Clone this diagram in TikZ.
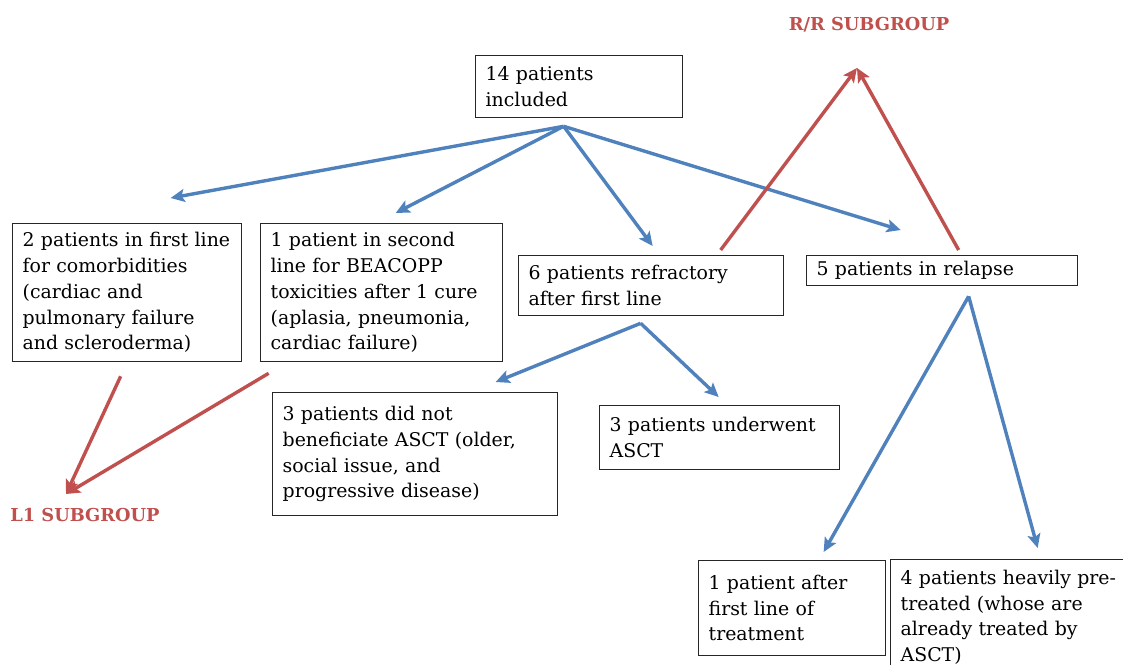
\documentclass[tikz,border=0pt]{standalone}
\usepackage{fontspec}
\setmainfont{DejaVu Serif}
\usetikzlibrary{arrows.meta,calc}
\definecolor{arrblue}{HTML}{4F81BD}
\definecolor{arrred}{HTML}{C0504D}
\begin{document}
\begin{tikzpicture}[x=1pt,y=-1pt,
  box/.style={draw=black!85,line width=1.3pt,anchor=north west,align=left,
    inner xsep=10pt,inner ysep=0pt,font=\fontsize{18.9}{25.7}\selectfont},
  bluearrow/.style={draw=arrblue,line width=3.4pt,-{Stealth[length=14pt,width=13pt,inset=3pt]}},
  redarrow/.style={draw=arrred,line width=3.4pt,-{Stealth[length=14pt,width=13pt,inset=3pt]}},
  lbl/.style={text=arrred,font=\fontsize{17.8}{20}\selectfont\bfseries,inner sep=0pt}]
\useasboundingbox (0,0) rectangle (1123,664);

\node[box,text width=187pt,minimum height=62pt] (top) at (475,55) {14 patients\\included};
\node[box,text width=209pt,minimum height=138pt] (A) at (12,223)
  {2 patients in first line\\for comorbidities\\(cardiac and\\pulmonary failure\\and scleroderma)};
\node[box,text width=222pt,minimum height=138pt] (B) at (260,223)
  {1 patient in second\\line for BEACOPP\\toxicities after 1 cure\\(aplasia, pneumonia,\\cardiac failure)};
\node[box,text width=245pt,minimum height=60pt] (C) at (518,255)
  {6 patients refractory\\after first line};
\node[box,text width=251pt,minimum height=30pt] (D) at (806,255)
  {5 patients in relapse};
\node[box,text width=265pt,minimum height=123pt] (E) at (272,392)
  {3 patients did not\\beneficiate ASCT (older,\\social issue, and\\progressive disease)};
\node[box,text width=220pt,minimum height=64pt] (F) at (599,405)
  {3 patients underwent\\ASCT};
\node[box,text width=167pt,minimum height=95pt] (G) at (698,560)
  {1 patient after\\first line of\\treatment};
\node[box,text width=220pt,minimum height=115pt] (H) at (890,559)
  {4 patients heavily pre-\\treated (whose are\\already treated by\\ASCT)};

\node[lbl] (RR) at (869,25) {R/R SUBGROUP};
\node[lbl] (L1) at (85,515) {L1 SUBGROUP};

\coordinate (hub1) at ($(top.south)+(-15.5,8)$);
\coordinate (hub2) at ($(C.south)+(-10.5,7)$);
\coordinate (hub3) at ($(D.south)+(26.5,10)$);
\coordinate (rrtip) at ($(RR.center)+(-12,43)$);
\coordinate (l1tip) at ($(L1.center)+(-19,-21)$);

\draw[bluearrow] (hub1) -- ($(A.north)+(43.5,-25)$);
\draw[bluearrow] (hub1) -- ($(B.north)+(14,-10)$);
\draw[bluearrow] (hub1) -- ($(C.north)+(1.5,-9)$);
\draw[bluearrow] (hub1) -- ($(D.north)+(-41.5,-25)$);
\draw[bluearrow] (hub2) -- ($(E.north)+(80.5,-10)$);
\draw[bluearrow] (hub2) -- ($(F.north)+(-1,-8)$);
\draw[bluearrow] (hub3) -- ($(G.north)+(31.5,-8)$);
\draw[bluearrow] (hub3) -- ($(H.north)+(27,-11)$);

\draw[redarrow] ($(C.north)+(69.5,-5)$) -- (rrtip);
\draw[redarrow] ($(D.north)+(16.5,-5)$) -- (rrtip);
\draw[redarrow] ($(A.south)+(-6.5,14)$) -- (l1tip);
\draw[redarrow] ($(B.south)+(-113,11)$) -- (l1tip);
\end{tikzpicture}
\end{document}
